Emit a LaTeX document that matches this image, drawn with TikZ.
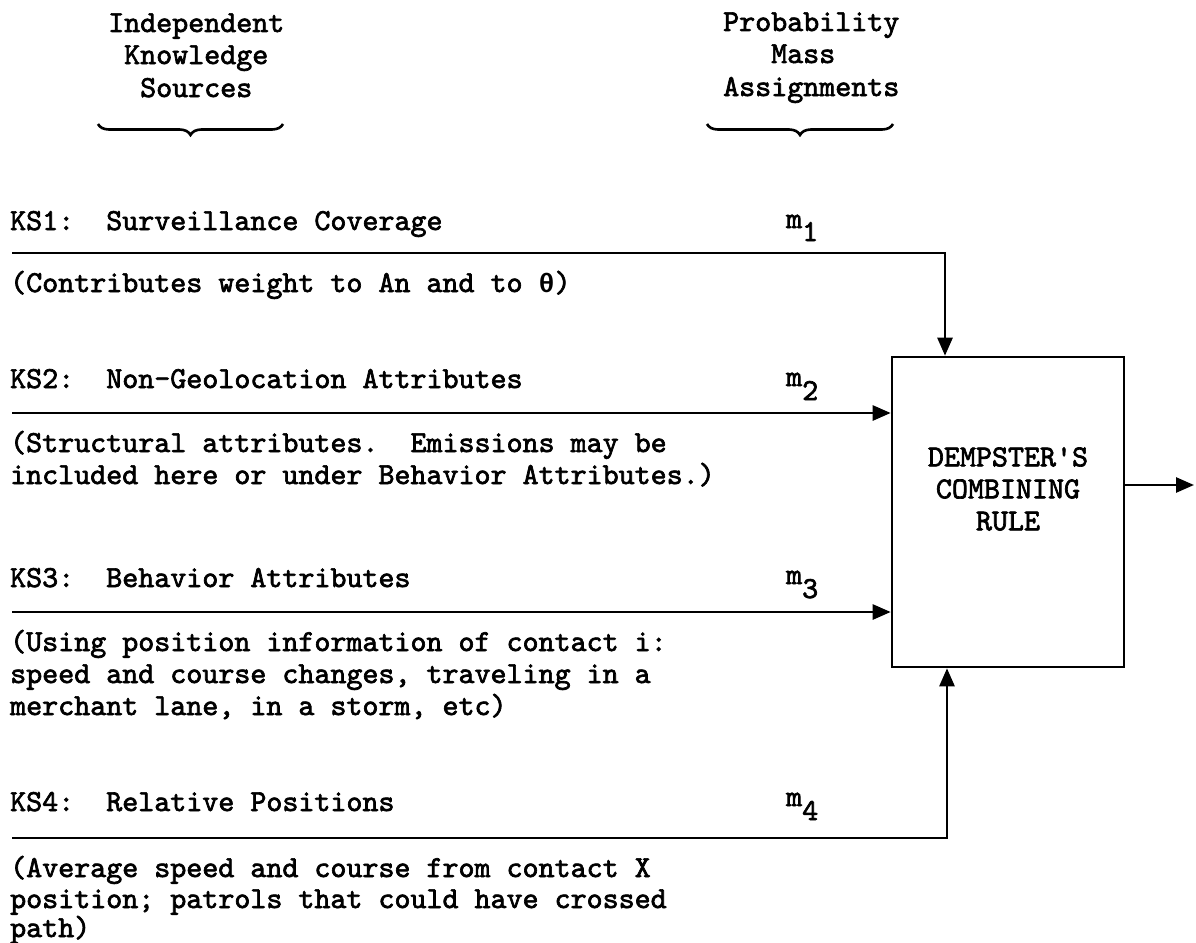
\documentclass[tikz,border=0pt]{standalone}
\usepackage{fontspec}
\newfontfamily\lmono{Liberation Mono}[BoldFont={Liberation Mono Bold}]
\newfontfamily\twfont{lmmono10-regular.otf}[FakeBold=2.2]
\usetikzlibrary{arrows.meta,decorations.pathreplacing}
\frenchspacing
\tikzset{
  tw/.style={font=\fontsize{30.5}{32}\selectfont\twfont\bfseries},
  txt/.style={tw, anchor=base west, inner sep=0pt},
  conn/.style={line width=2.6pt, line cap=butt},
  arr/.style={conn, -{Triangle[length=18pt,width=15pt]}},
  rulebox/.style={draw, line width=2.6pt, minimum width=232pt, minimum height=310pt, inner sep=0pt},
  brc/.style={decorate, decoration={brace, amplitude=11pt}, line width=2.6pt}
}
\begin{document}
\begin{tikzpicture}[x=1pt,y=-1pt]
\useasboundingbox (0,0) rectangle (1196,942);
% headings
\node[txt] (h1a) at (108,32) {Independent};
\node[txt] (h1b) at (124,64) {Knowledge};
\node[txt] (h1c) at (140,97) {Sources};
\node[txt] (h2a) at (723,31) {Probability};
\node[txt] (h2b) at (771,63) {Mass};
\node[txt] (h2c) at (723,96) {Assignments};
\draw[brc] (283,124) coordinate (b1r) -- (98,124) coordinate (b1l);
\draw[brc] (893,124) coordinate (b2r) -- (707,124) coordinate (b2l);
% box
\node[rulebox] (box) at (1008,512) {};
\node[tw, align=center, inner sep=0pt] (rule) at (1008,489) {DEMPSTER\textquotesingle S\\COMBINING\\RULE};
% KS1
\node[txt] (k1) at (10,230) {KS1:~ Surveillance Coverage};
\node[txt] (m1) at (786,228) {m};
\node[txt] (m1s) at (802,241) {1};
\node[txt] (d1a) at (10,292) {(Contributes weight to An and to {\lmono\fontsize{26.67}{32}\selectfont θ})};
\coordinate (s1) at (12,253);
\draw[arr] (s1) -| ([xshift=-63pt]box.north);
% KS2
\node[txt] (k2) at (10,388) {KS2:~ Non-Geolocation Attributes};
\node[txt] (m2) at (786,386) {m};
\node[txt] (m2s) at (802,400) {2};
\node[txt] (d2a) at (10,452) {(Structural attributes.~ Emissions may be};
\node[txt] (d2b) at (10,484) {included here or under Behavior Attributes.)};
\coordinate (s2) at (12,413);
\draw[arr] (s2) -- (s2 -| box.west);
% KS3
\node[txt] (k3) at (10,587) {KS3:~ Behavior Attributes};
\node[txt] (m3) at (786,584) {m};
\node[txt] (m3s) at (802,598) {3};
\node[txt] (d3a) at (10,651) {(Using position information of contact i:};
\node[txt] (d3b) at (10,683) {speed and course changes, traveling in a};
\node[txt] (d3c) at (10,715) {merchant lane, in a storm, etc)};
\coordinate (s3) at (12,612);
\draw[arr] (s3) -- (s3 -| box.west);
% KS4
\node[txt] (k4) at (10,811) {KS4:~ Relative Positions};
\node[txt] (m4) at (786,806) {m};
\node[txt] (m4s) at (802,820) {4};
\node[txt] (d4a) at (10,877) {(Average speed and course from contact X};
\node[txt] (d4b) at (10,908) {position; patrols that could have crossed};
\node[txt] (d4c) at (10,937) {path)};
\coordinate (s4) at (12,838);
\draw[arr] (s4) -| ([xshift=-61pt]box.south);
% output
\coordinate (out) at (1194,485);
\draw[arr] (box.east |- out) -- (out);
\end{tikzpicture}
\end{document}
